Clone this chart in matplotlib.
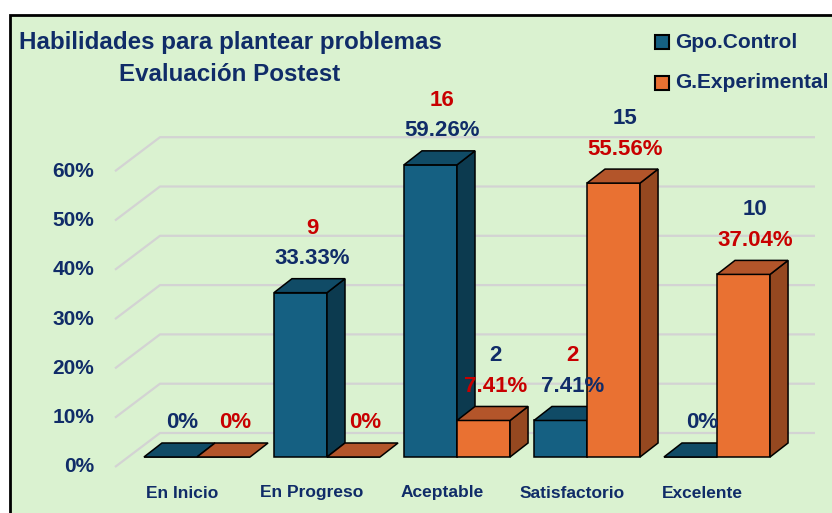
import matplotlib
matplotlib.use('Agg')
import matplotlib.pyplot as plt
from matplotlib.patches import Polygon, Rectangle
import numpy as np

categories = ['En Inicio', 'En Progreso', 'Aceptable', 'Satisfactorio', 'Excelente']
control_pct = [0, 33.33, 59.26, 7.41, 0]
exper_pct = [0, 0, 7.41, 55.56, 37.04]
control_n = [0, 9, 16, 2, 0]
exper_n = [0, 0, 2, 15, 10]
yticks = [0, 10, 20, 30, 40, 50, 60]
series_names = ['Gpo.Control', 'G.Experimental']
title_lines = ['Habilidades para plantear problemas', 'Evaluación Postest']

W, H = 832, 513
NAVY = '#102C68'
RED = '#C80000'
BG = '#DAF2D0'
GRID = '#D3D3D3'
C_FRONT, C_TOP, C_SIDE = '#156082', '#104B66', '#0C3A4F'
E_FRONT, E_TOP, E_SIDE = '#E97132', '#B3552A', '#954820'
FONT = 'Liberation Sans'

def px2x(px):
    return (px - 197) / 130.0

def py2y(py):
    return (457 - py) / 4.93

fig = plt.figure(figsize=(W / 100, H / 100), dpi=100)
fig.patch.set_facecolor('white')
fig.patches.append(Rectangle((10 / W, -0.05), 1.1, 1 - 15 / H + 0.05,
                             transform=fig.transFigure, facecolor=BG,
                             edgecolor='black', lw=2, zorder=-10))

ax = fig.add_axes([0, 0, 1, 1])
ax.patch.set_alpha(0)
ax.axis('off')
ax.set_xlim(px2x(0), px2x(W))
ax.set_ylim(py2y(H), py2y(0))

# perspective offsets (data units)
floor_front = py2y(467)
floor_back = py2y(433)
gx0, gx1, gx2 = px2x(115), px2x(160), px2x(815)
for v in yticks:
    ax.plot([gx0, gx1, gx2], [v + floor_front, v + floor_back, v + floor_back],
            color=GRID, lw=1.6, zorder=1, solid_capstyle='butt')
    ax.text(px2x(94), v + floor_front, f'{v}%', ha='right', va='center',
            fontsize=15, fontweight='bold', color=NAVY, family=FONT)

x = np.arange(len(categories))
w = 0.408
dx, dy = 18 / 130.0, 14 / 4.93

def draw3d(xs, vals, front, top, side, z):
    ax.bar(xs, vals, width=w, align='edge', color=front, edgecolor='black',
           lw=1.1, zorder=z)
    for x0, v in zip(xs, vals):
        topf = [(x0, v), (x0 + w, v), (x0 + w + dx, v + dy), (x0 + dx, v + dy)]
        sidef = [(x0 + w, 0), (x0 + w + dx, dy), (x0 + w + dx, v + dy), (x0 + w, v)]
        if v > 0:
            ax.add_patch(Polygon(sidef, closed=True, facecolor=side,
                                 edgecolor='black', lw=1.1, zorder=z))
        ax.add_patch(Polygon(topf, closed=True, facecolor=top,
                             edgecolor='black', lw=1.1, zorder=z))

draw3d(x - w, control_pct, C_FRONT, C_TOP, C_SIDE, 3)
draw3d(x, exper_pct, E_FRONT, E_TOP, E_SIDE, 4)

def labels(xs, pcts, ns, pcol, ncol):
    for x0, v, n in zip(xs, pcts, ns):
        cx = x0 + w / 2 + 0.09
        txt = f'{v:.2f}%' if v > 0 else '0%'
        ax.text(cx, v + 6.9, txt, ha='center', va='center', fontsize=16,
                fontweight='bold', color=pcol, family=FONT, zorder=6)
        if n > 0:
            ax.text(cx, v + 13.1, str(n), ha='center', va='center', fontsize=16,
                    fontweight='bold', color=ncol, family=FONT, zorder=6)

labels(x - w, control_pct, control_n, NAVY, RED)
labels(x, exper_pct, exper_n, RED, NAVY)

for xi, c in zip(x, categories):
    ax.text(xi - 0.115, py2y(493), c, ha='center', va='center', fontsize=12.5,
            fontweight='bold', color=NAVY, family=FONT)

# title
fig.text(230 / W, 1 - 42 / H, title_lines[0], ha='center', va='center',
         fontsize=17.4, fontweight='bold', color=NAVY, family=FONT)
fig.text(230 / W, 1 - 75 / H, title_lines[1], ha='center', va='center',
         fontsize=17.4, fontweight='bold', color=NAVY, family=FONT)

# legend
for name, col, yc in zip(series_names, [C_FRONT, E_FRONT], [42, 83]):
    fig.patches.append(Rectangle((655 / W, 1 - (yc + 7) / H), 14 / W, 14 / H,
                                 transform=fig.transFigure, facecolor=col,
                                 edgecolor='black', lw=1.5, zorder=2))
    fig.text(675 / W, 1 - yc / H, name, ha='left', va='center', fontsize=15,
             fontweight='bold', color=NAVY, family=FONT)

fig.savefig('out.png', dpi=100)
